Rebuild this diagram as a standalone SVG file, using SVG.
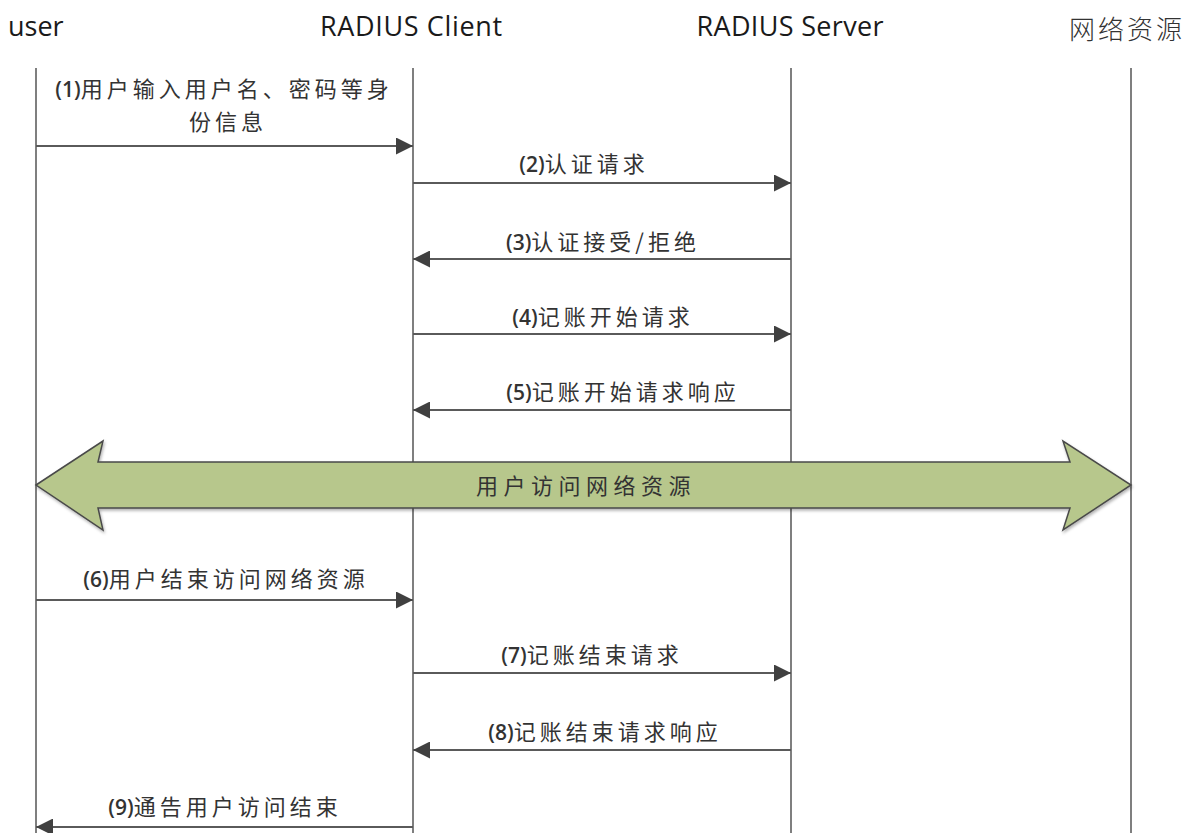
<svg xmlns="http://www.w3.org/2000/svg" width="1194" height="833" viewBox="0 0 1194 833">
<style>
.hdr{font-family:"Open Sans","Noto Sans",sans-serif;font-size:27px;fill:#1a1a1a}
.hdrc{font-family:"Noto Sans CJK SC",sans-serif;font-size:26px;fill:#333;letter-spacing:3px;font-weight:300}
.life{stroke:#7f7f7f;stroke-width:2;fill:none}
.msg{stroke:#5a5a5a;stroke-width:2;fill:none}
.lbl{font-family:"Open Sans","Noto Sans CJK SC",sans-serif;font-size:21px;fill:#333;text-anchor:middle}
.n{font-weight:600;letter-spacing:0}
.c{font-family:"Noto Sans CJK SC",sans-serif;font-size:22px;letter-spacing:4px}
.big{fill:#b7c78c;stroke:#4a4a4a;stroke-width:1.5}
.bigt{font-family:"Noto Sans CJK SC",sans-serif;font-size:22px;fill:#333;letter-spacing:5.5px;text-anchor:middle}
</style>
<defs>
<marker id="ah" viewBox="0 0 17 17" refX="17" refY="8.5" markerWidth="17" markerHeight="17" markerUnits="userSpaceOnUse" orient="auto">
<path d="M0,0 L17,8.5 L0,17 Z" fill="#404040"/>
</marker>
<filter id="sh" x="-5%" y="-20%" width="110%" height="140%">
<feDropShadow dx="1" dy="2" stdDeviation="1.5" flood-color="#000" flood-opacity="0.3"/>
</filter>
</defs>

<g id="user">
<text class="hdr" x="8" y="36">user</text>
<line class="life" x1="36" y1="68" x2="36" y2="833"/>
</g>
<g id="radius-client">
<text class="hdr" x="411" y="36" text-anchor="middle" textLength="182" lengthAdjust="spacing">RADIUS Client</text>
<line class="life" x1="413" y1="68" x2="413" y2="833"/>
</g>
<g id="radius-server">
<text class="hdr" x="790" y="36" text-anchor="middle" textLength="187" lengthAdjust="spacing">RADIUS Server</text>
<line class="life" x1="791" y1="68" x2="791" y2="833"/>
</g>
<g id="network-resource">
<text class="hdrc" x="1069" y="39">网络资源</text>
<line class="life" x1="1131" y1="68" x2="1131" y2="833"/>
</g>

<g id="access">
<path class="big" filter="url(#sh)" d="M36,485 L103,441 L98,462 L1070,462 L1063,441 L1131,485 L1063,530 L1070,508 L98,508 L103,530 Z"/>
<text class="bigt" x="586" y="494">用户访问网络资源</text>
</g>

<g id="connectors">
<line class="msg" x1="36" y1="146" x2="413" y2="146" marker-end="url(#ah)"/>
<line class="msg" x1="413" y1="183" x2="791" y2="183" marker-end="url(#ah)"/>
<line class="msg" x1="791" y1="259" x2="413" y2="259" marker-end="url(#ah)"/>
<line class="msg" x1="413" y1="334" x2="791" y2="334" marker-end="url(#ah)"/>
<line class="msg" x1="791" y1="410" x2="413" y2="410" marker-end="url(#ah)"/>
<line class="msg" x1="36" y1="600" x2="413" y2="600" marker-end="url(#ah)"/>
<line class="msg" x1="413" y1="673" x2="791" y2="673" marker-end="url(#ah)"/>
<line class="msg" x1="791" y1="750" x2="413" y2="750" marker-end="url(#ah)"/>
<line class="msg" x1="413" y1="827" x2="36" y2="827" marker-end="url(#ah)"/>
</g>

<g id="labels">
<text class="lbl" x="224" y="97"><tspan class="n">(1)</tspan><tspan class="c">用户输入用户名、密码等身</tspan></text>
<text class="lbl c" x="228" y="130">份信息</text>
<text class="lbl" x="584" y="172"><tspan class="n">(2)</tspan><tspan class="c">认证请求</tspan></text>
<text class="lbl" x="603" y="250"><tspan class="n">(3)</tspan><tspan class="c">认证接受/拒绝</tspan></text>
<text class="lbl" x="603" y="325"><tspan class="n">(4)</tspan><tspan class="c">记账开始请求</tspan></text>
<text class="lbl" x="623" y="400"><tspan class="n">(5)</tspan><tspan class="c">记账开始请求响应</tspan></text>
<text class="lbl" x="226" y="587"><tspan class="n">(6)</tspan><tspan class="c">用户结束访问网络资源</tspan></text>
<text class="lbl" x="592" y="663"><tspan class="n">(7)</tspan><tspan class="c">记账结束请求</tspan></text>
<text class="lbl" x="605" y="740"><tspan class="n">(8)</tspan><tspan class="c">记账结束请求响应</tspan></text>
<text class="lbl" x="225" y="815"><tspan class="n">(9)</tspan><tspan class="c">通告用户访问结束</tspan></text>
</g>
</svg>
